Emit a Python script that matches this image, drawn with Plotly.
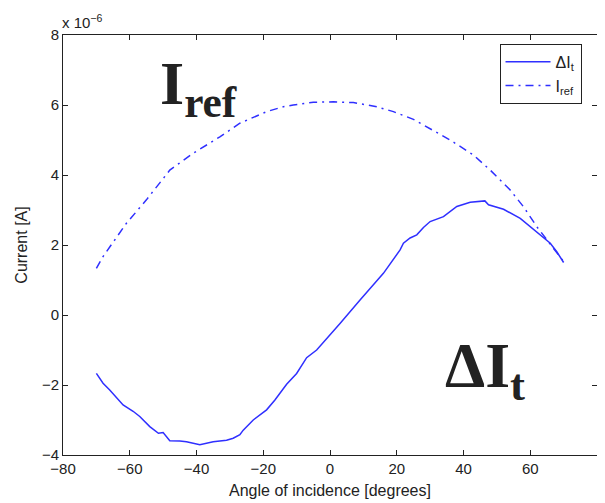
import plotly.graph_objects as go

# Delta I_t (solid), units of 1e-6 A
dit_x = [-70, -68, -66, -64, -62, -59, -57, -54, -52, -51.4, -50, -48, -45, -43, -39,
         -35, -31, -29, -27, -26, -23, -19, -16.5, -13, -10, -7, -4, 0, 3, 9, 16, 21,
         22, 24, 26, 28, 30, 34, 36, 38, 42, 46.4, 47.5, 49, 52, 57, 62, 66, 68, 69.4, 70]
dit_y = [-1.67, -1.95, -2.14, -2.35, -2.57, -2.75, -2.9, -3.19, -3.33, -3.38, -3.36,
         -3.59, -3.6, -3.62, -3.71, -3.62, -3.58, -3.52, -3.42, -3.29, -3.0, -2.71,
         -2.43, -1.98, -1.67, -1.22, -1.0, -0.57, -0.24, 0.43, 1.19, 1.86, 2.05, 2.2,
         2.29, 2.5, 2.67, 2.81, 2.95, 3.1, 3.22, 3.26, 3.15, 3.1, 3.02, 2.76, 2.38,
         2.05, 1.8, 1.57, 1.5]

# I_ref (dash-dot), units of 1e-6 A
iref_x = [-70, -68, -61, -55, -48, -41, -33, -27, -19, -14, -11, -5, 1, 7, 14, 19,
          25, 30, 36, 43, 48, 54, 58, 62, 65, 69.4, 70]
iref_y = [1.33, 1.67, 2.62, 3.29, 4.14, 4.62, 5.09, 5.48, 5.81, 5.95, 6.0, 6.08, 6.09,
          6.07, 5.95, 5.81, 5.59, 5.33, 5.0, 4.57, 4.14, 3.57, 3.09, 2.52, 2.14, 1.6,
          1.55]

x_ticks = [-80, -60, -40, -20, 0, 20, 40, 60, 80]
y_ticks = [-4, -2, 0, 2, 4, 6, 8]

blue = "#2f2fff"
fig = go.Figure()
fig.add_trace(go.Scatter(x=dit_x, y=dit_y, mode="lines", name="ΔI<sub>t</sub>",
                         line=dict(color=blue, width=1.5)))
fig.add_trace(go.Scatter(x=iref_x, y=iref_y, mode="lines", name="I<sub>ref</sub>",
                         line=dict(color=blue, width=1.5, dash="8px,5px,2px,5px")))

axis_common = dict(showline=True, linecolor="#222", linewidth=1, mirror="ticks",
                   ticks="inside", ticklen=5, tickcolor="#222", showgrid=False,
                   zeroline=False, automargin=False,
                   tickfont=dict(family="Liberation Sans", size=15, color="#222"))
fig.update_xaxes(range=[-80, 80], tickvals=x_ticks, ticktext=[f"{v:d}".replace("-", "−") for v in x_ticks],
                 title=dict(text="Angle of incidence [degrees]", standoff=8,
                            font=dict(family="Liberation Sans", size=16, color="#222")),
                 **axis_common)
fig.update_yaxes(range=[-4, 8], tickvals=y_ticks, ticktext=[f"{v:d}".replace("-", "−") for v in y_ticks],
                 title=dict(text="Current [A]", standoff=10,
                            font=dict(family="Liberation Sans", size=16, color="#222")),
                 **axis_common)

# the page body has an 8px margin, so the figure is sized to fit inside the window
fig.update_layout(
    width=597, height=495,
    margin=dict(l=55, r=8, t=27, b=48, autoexpand=False),
    plot_bgcolor="white", paper_bgcolor="white",
    legend=dict(x=0.971, y=0.979, xanchor="right", yanchor="top",
                bordercolor="#222", borderwidth=1, bgcolor="white",
                font=dict(family="Liberation Sans", size=16, color="#222"),
                itemwidth=45, traceorder="normal"),
    annotations=[
        dict(text="x 10<sup>−6</sup>", xref="paper", yref="paper", x=0, y=1,
             xanchor="left", yanchor="bottom", showarrow=False, xshift=-3, yshift=2,
             font=dict(family="Liberation Sans", size=15, color="#222")),
        dict(text="<b>I<sub>ref</sub></b>", xref="x", yref="y", x=-51.5, y=6.5,
             xanchor="left", yanchor="middle", showarrow=False,
             font=dict(family="Liberation Serif", size=62, color="#222")),
        dict(text="<b>ΔI<sub>t</sub></b>", xref="x", yref="y", x=33.8, y=-1.57,
             xanchor="left", yanchor="middle", showarrow=False,
             font=dict(family="Liberation Serif", size=64, color="#222")),
    ],
)

fig.write_html("out.html")
